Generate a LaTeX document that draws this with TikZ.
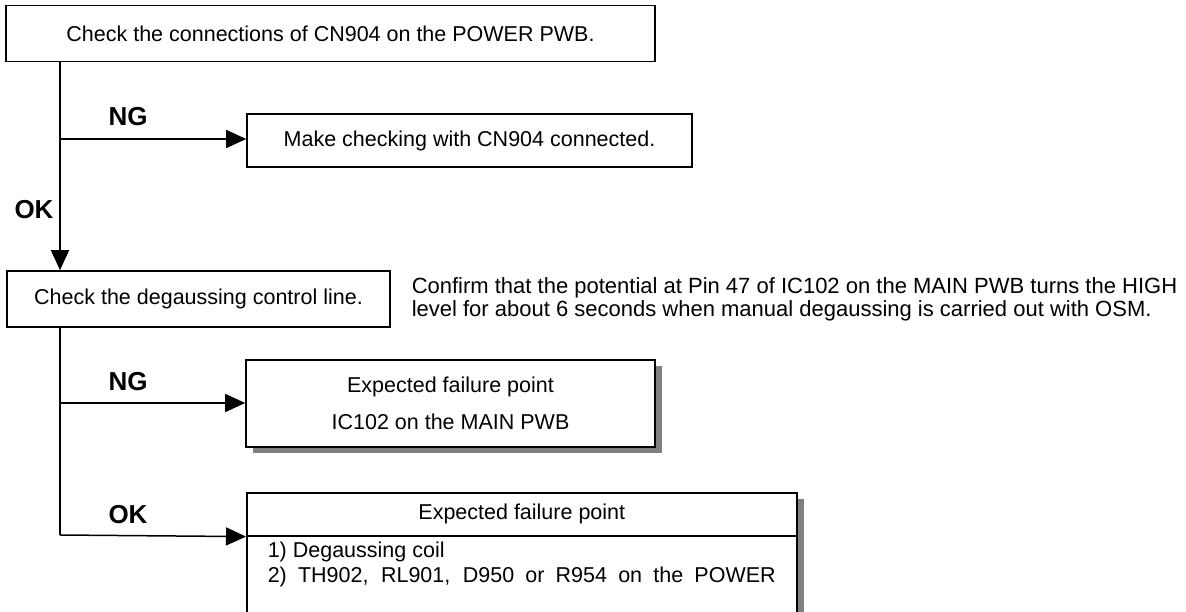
\documentclass[tikz,border=0pt]{standalone}
\usepackage{fontspec}
\setmainfont{Liberation Sans}
\usetikzlibrary{arrows.meta,shadows}

\begin{document}
\begin{tikzpicture}[x=1pt,y=-1pt,line width=1.5pt,
  every node/.style={font=\fontsize{21.5}{25}\selectfont,inner sep=0pt},
  box/.style={draw,rectangle,line width=1.6pt,fill=white},
  shade/.style={drop shadow={shadow xshift=7pt,shadow yshift=-6pt,fill=gray,opacity=1}},
  lab/.style={font=\fontsize{26}{30}\selectfont\bfseries},
  arr/.style={-{Triangle[length=20pt,width=18pt]}}]
  \useasboundingbox (0,0) rectangle (1186,612);
  \clip (0,0) rectangle (1186,612);
  % boxes
  \node[box,minimum width=649pt,minimum height=56pt] (conn) at (330.5,33.5) {Check the connections of CN904 on the POWER PWB.};
  \node[box,minimum width=445pt,minimum height=53pt] (recheck) at (469.5,140.5) {Make checking with CN904 connected.};
  \node[box,minimum width=383pt,minimum height=56pt] (degctl) at (198.5,299) {Check the degaussing control line.};
  \node[anchor=west,align=left,font=\fontsize{22}{23}\selectfont] (confirm) at (411,299)
    {Confirm that the potential at Pin 47 of IC102 on the MAIN PWB turns the HIGH\\
     level for about 6 seconds when manual degaussing is carried out with OSM.};
  \node[box,shade,minimum width=409pt,minimum height=87pt,align=center] (failic) at (450.5,403.5)
    {Expected failure point\\[12pt]IC102 on the MAIN PWB};
  \node[box,shade,anchor=north west,minimum width=550pt,minimum height=140pt] (failbody) at (246,492) {};
  \node[box,anchor=north west,minimum width=550pt,minimum height=43pt] (failhead) at (246,492) {Expected failure point};
  \node[anchor=west] (item1) at (267,552) {1) Degaussing coil};
  \node[anchor=west] (item2) at (267,577) {\makebox[508pt][s]{2) TH902, RL901, D950 or R954 on the POWER}};
  % junctions
  \coordinate (j1) at (60,139);
  \coordinate (j2) at (60,403);
  \coordinate (j3) at (60,535);
  \draw[arr] (conn.south -| j1) -- (degctl.north -| j1);
  \draw[arr] (j1) -- (j1 -| recheck.west);
  \draw (degctl.south -| j3) -- (j3);
  \draw[arr] (j2) -- (j2 -| failic.west);
  \draw[arr] (j3) -- (failhead.south west);
  % labels
  \node[lab] (ng1) at (128,117) {NG};
  \node[lab] (ok1) at (34,210) {OK};
  \node[lab] (ng2) at (128,382) {NG};
  \node[lab] (ok2) at (128,515) {OK};
\end{tikzpicture}
\end{document}
